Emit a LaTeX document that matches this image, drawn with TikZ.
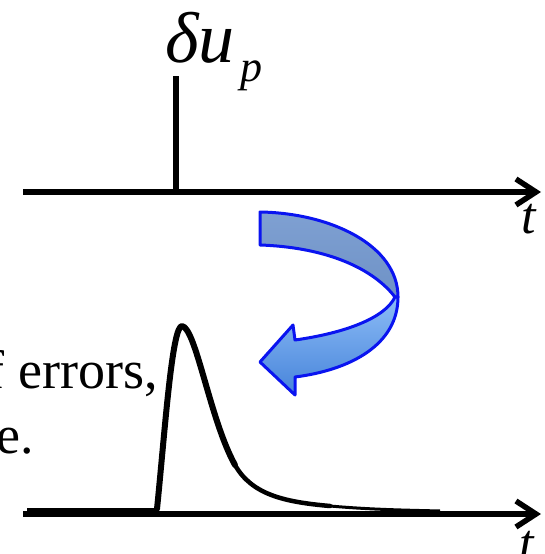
\documentclass[tikz,border=0pt]{standalone}
\usepackage{fontspec}
\setmainfont{Liberation Serif}
\usepackage{tikz}
\usetikzlibrary{arrows.meta, positioning}
\definecolor{arrowline}{HTML}{0A14F0}
\definecolor{backtop}{HTML}{7FA0D2}
\definecolor{backbot}{HTML}{6E92C6}
\definecolor{fronttop}{HTML}{8CBCF6}
\definecolor{frontbot}{HTML}{4784DA}

\begin{document}
\begin{tikzpicture}[
    x=1pt, y=-1pt,
    axis/.style={line width=6pt, -{Straight Barb[length=20pt, width=26pt, line width=5.5pt]}},
    spike/.style={line width=5.5pt},
    pulse/.style={line width=6pt, line join=round, line cap=round},
    band/.style={draw=arrowline, line width=3pt, line join=round},
    lbl/.style={inner sep=0pt, font=\fontsize{54}{64}\selectfont},
    tlbl/.style={inner sep=0pt, font=\fontsize{52}{62}\selectfont\itshape}
  ]
    \useasboundingbox (0,0) rectangle (544,554);
    % upper axis with the impulse
    \coordinate (a0) at (23,192);
    \coordinate (a1) at (541,192);
    \coordinate (s0) at (176,192);
    \coordinate (s1) at (176,76);
    \draw[axis] (a0) -- (a1);
    \draw[spike] (s0) -- (s1);
    \node[inner sep=0pt, anchor=base west, font=\fontsize{72}{80}\selectfont\itshape] (du) at (165,62)
      {δu\kern6pt\raisebox{-19pt}{\fontsize{44}{50}\selectfont p}};
    \node[tlbl, anchor=base west] (t1) at (521,233) {t};
    % twisted arrow
    \path[band, top color=backtop, bottom color=backbot]
      (260,212) .. controls (330,213) and (398,245) .. (398,297)
      -- (395,297) .. controls (370,265) and (320,247) .. (260,245) -- cycle;
    \path[band, top color=fronttop, bottom color=frontbot]
      (398,297) .. controls (398,345) and (350,370) .. (295,377)
      -- (295,395) -- (260,362) -- (293,325) -- (295,340)
      .. controls (345,333) and (385,318) .. (395,297) -- cycle;
    % lower axis with the response
    \coordinate (b0) at (23,514);
    \coordinate (b1) at (541,514);
    \draw[axis] (b0) -- (b1);
    \coordinate (p0) at (27,509);
    \coordinate (p1) at (157,509);
    \coordinate (pk) at (182,326);
    \coordinate (p2) at (235,465);
    \coordinate (p3) at (330,506);
    \coordinate (p4) at (440,511);
    \draw[line width=3pt] (p0) -- (p1);
    \draw[pulse] (p1) .. controls (165,430) and (172,326) .. (pk)
      .. controls (196,328) and (210,420) .. (p2);
    \draw[line width=4.5pt, line cap=round] (p2) .. controls (252,495) and (285,502) .. (p3);
    \draw[line width=3pt] (p3) .. controls (370,509.5) and (400,510) .. (p4);
    \node[tlbl, anchor=base west] (t2) at (519,560) {t};
    % cut text on the left
    \node[lbl, anchor=base west] (err) at (18,388) {\llap{f }errors,};
    \node[lbl, anchor=base east] (last) at (34,453) {e.};
  \end{tikzpicture}
\end{document}
